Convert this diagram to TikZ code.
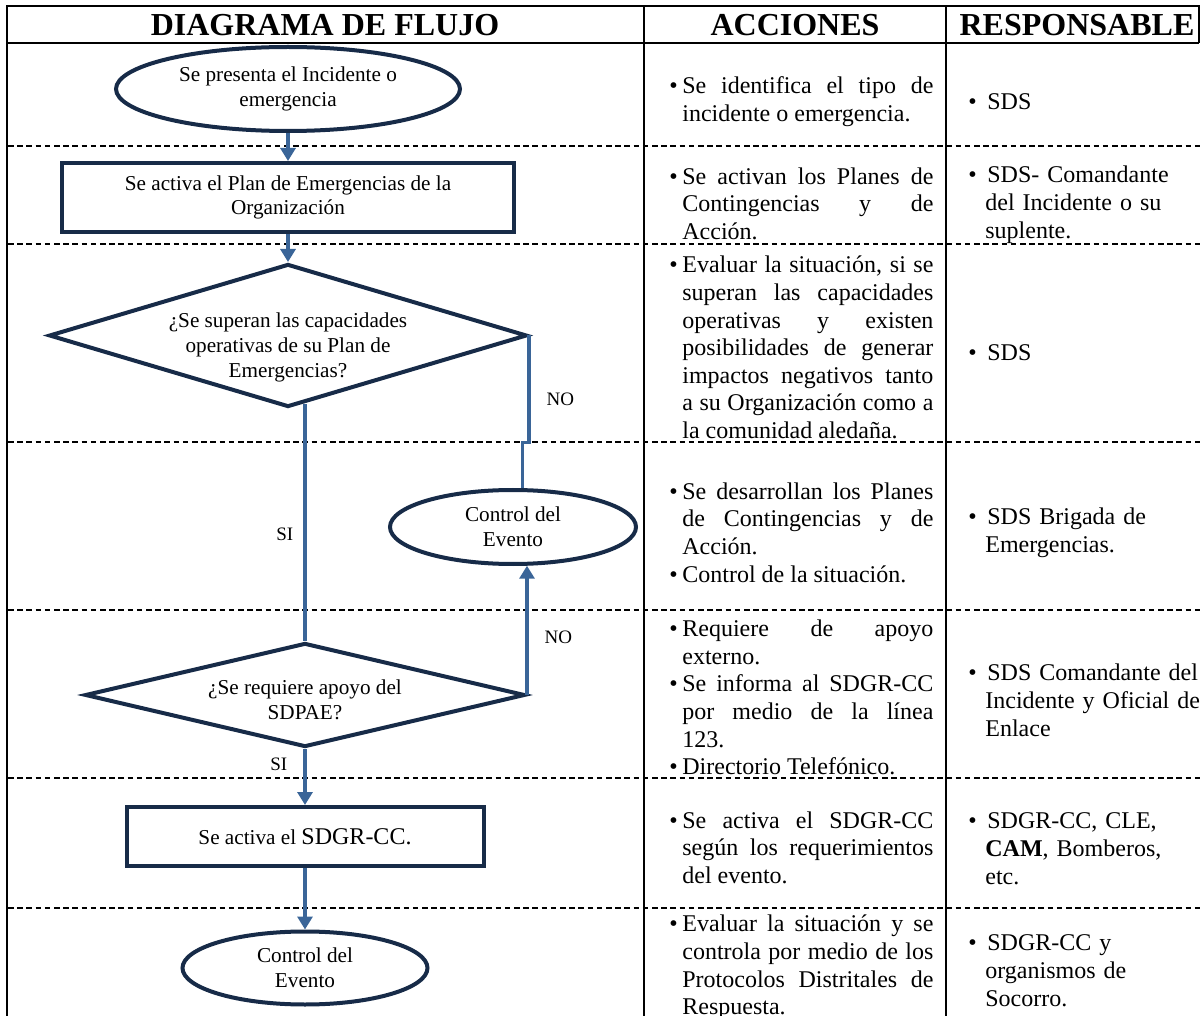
\documentclass[tikz,border=0pt]{standalone}
\usepackage{fontspec}
\setmainfont{Liberation Serif}
\usepackage{tikz}
\usetikzlibrary{arrows.meta,positioning,shapes.geometric,calc}

\definecolor{navy}{HTML}{172B48}
\definecolor{flow}{HTML}{3A6598}
\newcommand{\flowfont}{\fontsize{10.6}{12.4}\selectfont}
\newcommand{\itm}{\par\noindent\hangindent=6.5pt\hangafter=1\makebox[6.5pt][l]{\textbullet}}
\newcommand{\ritm}{\par\noindent\hangindent=8.5pt\hangafter=1\makebox[9.5pt][l]{\textbullet}}

\begin{document}
\begin{tikzpicture}[
  x=0.5pt,y=-0.5pt,
  term/.style={ellipse,draw=navy,line width=2pt,inner sep=0pt,align=center,font=\flowfont},
  box/.style={rectangle,draw=navy,line width=2pt,inner sep=0pt,align=center,font=\flowfont},
  dec/.style={diamond,draw=navy,line width=2pt,inner sep=0pt},
  arr/.style={-{Triangle[length=6.5pt,width=7.5pt]},draw=flow,line width=1.7pt},
  lnk/.style={draw=flow,line width=1.7pt},
  lbl/.style={font=\fontsize{9.5}{11}\selectfont,inner sep=1pt},
  hdr/.style={font=\fontsize{16}{18}\selectfont\bfseries},
  frame/.style={line width=1.3pt},
  sep/.style={line width=0.8pt,dash pattern=on 2.8pt off 1.8pt},
  acc/.style={anchor=west,inner sep=0pt,text width=132pt,align=justify,font=\fontsize{12}{13.8}\selectfont},
  res/.style={anchor=west,inner sep=0pt,text width=122pt,align=left,font=\fontsize{12}{14}\selectfont}
]
\useasboundingbox (0,0) rectangle (1201,1016);

% table
\draw[frame] (7,1016) -- (7,6) -- (1199,6) -- (1199,43);
\draw[frame] (7,43) -- (1199,43);
\draw[frame] (644,6) -- (644,1016);
\draw[frame] (946,6) -- (946,1016);
\foreach \y in {146,244,442,610,778,908}
  \draw[sep] (8,\y) -- (1201,\y);

\node[hdr] (h1) at (325,25) {DIAGRAMA DE FLUJO};
\node[hdr] (h2) at (795,25) {ACCIONES};
\node[hdr] (h3) at (1077,25) {RESPONSABLE};

% flow
\node[term,minimum width=172pt,minimum height=42pt] (start) at (288,89) {Se presenta el Incidente o\\emergencia};
\node[box,minimum width=226pt,minimum height=34.5pt] (plan) at (288,197.5) {Se activa el Plan de Emergencias de la\\Organización};
\node[dec,minimum width=239pt,minimum height=71.5pt,
  label={[font=\flowfont,align=center,yshift=-6pt]center:{¿Se superan las capacidades\\operativas de su Plan de\\Emergencias?}}] (capac) at (288,335.5) {};
\node[term,minimum width=123pt,minimum height=37pt] (control) at (513,527) {Control del\\Evento};
\node[dec,minimum width=220pt,minimum height=52pt,
  label={[font=\flowfont,align=center,yshift=-2.5pt]center:{¿Se requiere apoyo del\\SDPAE?}}] (apoyo) at (305,695) {};
\node[box,minimum width=178.5pt,minimum height=29.5pt] (sdgr) at (305,836.5) {Se activa el {\fontsize{12}{14}\selectfont SDGR-CC.}};
\node[term,minimum width=122.5pt,minimum height=36.5pt] (fin) at (305,968) {Control del\\Evento};

\draw[arr] (start) -- (plan);
\draw[arr] (plan) -- (capac);
\draw[lnk] ($(capac.south -| apoyo.north)+(0,-5)$) -- node[lbl,pos=0.55,left=4pt] {SI} (apoyo.north);
\draw[lnk] (capac.east) -- node[lbl,pos=0.6,right=7pt] {NO} ++(0,107) -| (control.76);
\draw[arr] (apoyo.east) -- node[lbl,pos=0.45,right=7pt] {NO} (apoyo.east |- control.-70);
\draw[arr] (apoyo) -- node[lbl,pos=0.27,left=7pt] {SI} (sdgr);
\draw[arr] (sdgr) -- (fin);

% acciones
\node[acc] (acc1) at (669,96) {\itm Se identifica el tipo de\linebreak incidente o emergencia.\par};
\node[acc] (acc2) at (669,198) {\itm Se activan los Planes de\linebreak Contingencias y de\linebreak Acción.\par};
\node[acc] (acc3) at (669,342) {\itm Evaluar la situación, si se\linebreak superan las capacidades\linebreak operativas y existen\linebreak posibilidades de generar\linebreak impactos negativos tanto\linebreak a su Organización como a\linebreak la comunidad aledaña.\par};
\node[acc] (acc4) at (669,527) {\itm Se desarrollan los Planes\linebreak de Contingencias y de\linebreak Acción.\itm Control de la situación.\par};
\node[acc] (acc5) at (669,692) {\itm Requiere de apoyo\linebreak externo.\itm Se informa al SDGR-CC\linebreak por medio de la línea\linebreak 123.\itm Directorio Telefónico.\par};
\node[acc] (acc6) at (669,842) {\itm Se activa el SDGR-CC\linebreak según los requerimientos\linebreak del evento.\par};
\node[acc] (acc7) at (669,962) {\itm Evaluar la situación y se\linebreak controla por medio de los\linebreak Protocolos Distritales de\linebreak Respuesta.\par};

% responsable
\node[res] (res1) at (968,96) {\ritm SDS\par};
\node[res] (res2) at (968,199) {\ritm SDS- Comandante\newline del Incidente o su\newline suplente.\par};
\node[res] (res3) at (968,347) {\ritm SDS\par};
\node[res] (res4) at (968,527) {\ritm SDS Brigada de\newline Emergencias.\par};
\node[res] (res5) at (968,695) {\ritm SDS Comandante del\newline Incidente y Oficial de\newline Enlace\par};
\node[res] (res6) at (968,843) {\ritm SDGR-CC, CLE,\newline \textbf{CAM}, Bomberos,\newline etc.\par};
\node[res] (res7) at (968,965) {\ritm SDGR-CC y\newline organismos de\newline Socorro.\par};
\end{tikzpicture}
\end{document}
